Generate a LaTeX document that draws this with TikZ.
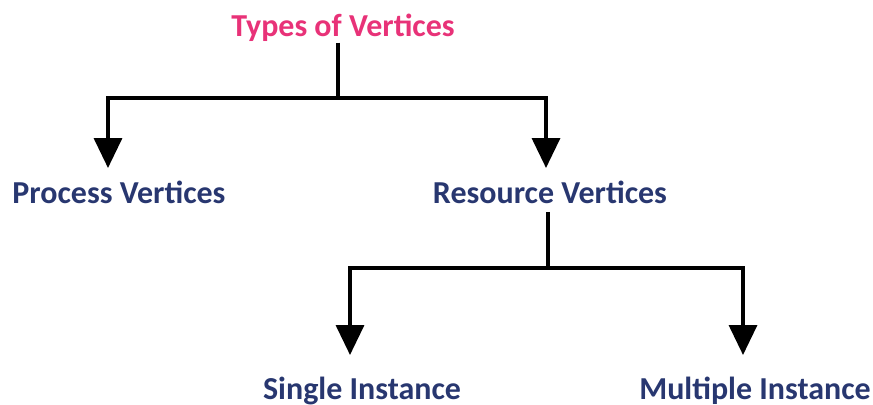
\documentclass[tikz,border=0pt]{standalone}
\usepackage{fontspec}
\setmainfont{Carlito}
\usetikzlibrary{arrows.meta}
\definecolor{titlepink}{RGB}{232,50,120}
\definecolor{labelblue}{RGB}{40,55,112}
\tikzset{
  lbl/.style={anchor=base,inner sep=0pt,font=\fontsize{9.1}{11}\selectfont\bfseries,text=labelblue},
  arr/.style={line width=1pt,-{Triangle[length=3mm,width=2.8mm]}},
  ln/.style={line width=1pt}
}
\begin{document}
\begin{tikzpicture}
\useasboundingbox (0,0) rectangle (8.73,4.04);
% labels
\node[lbl,text=titlepink] (types) at (3.43,3.67) {Types of Vertices};
\node[lbl] (proc) at (1.19,2.01) {Process Vertices};
\node[lbl] (res) at (5.50,2.01) {Resource Vertices};
\node[lbl] (single) at (3.62,0.05) {Single Instance};
\node[lbl] (multi) at (7.55,0.05) {Multiple Instance};
% first split
\coordinate (j1) at (3.38,3.06);
\coordinate (procTip) at (1.08,2.36);
\coordinate (resTip) at (5.46,2.36);
\draw[ln] (types.south -| j1) -- (j1);
\draw[arr] (j1) -| (procTip);
\draw[arr] (j1) -| (resTip);
% second split
\coordinate (j2) at (5.48,1.36);
\coordinate (singleTip) at (3.50,0.49);
\coordinate (multiTip) at (7.43,0.49);
\draw[ln] (res.south -| j2) ++(0,-0.08) -- (j2);
\draw[arr] (j2) -| (singleTip);
\draw[arr] (j2) -| (multiTip);
\end{tikzpicture}
\end{document}
